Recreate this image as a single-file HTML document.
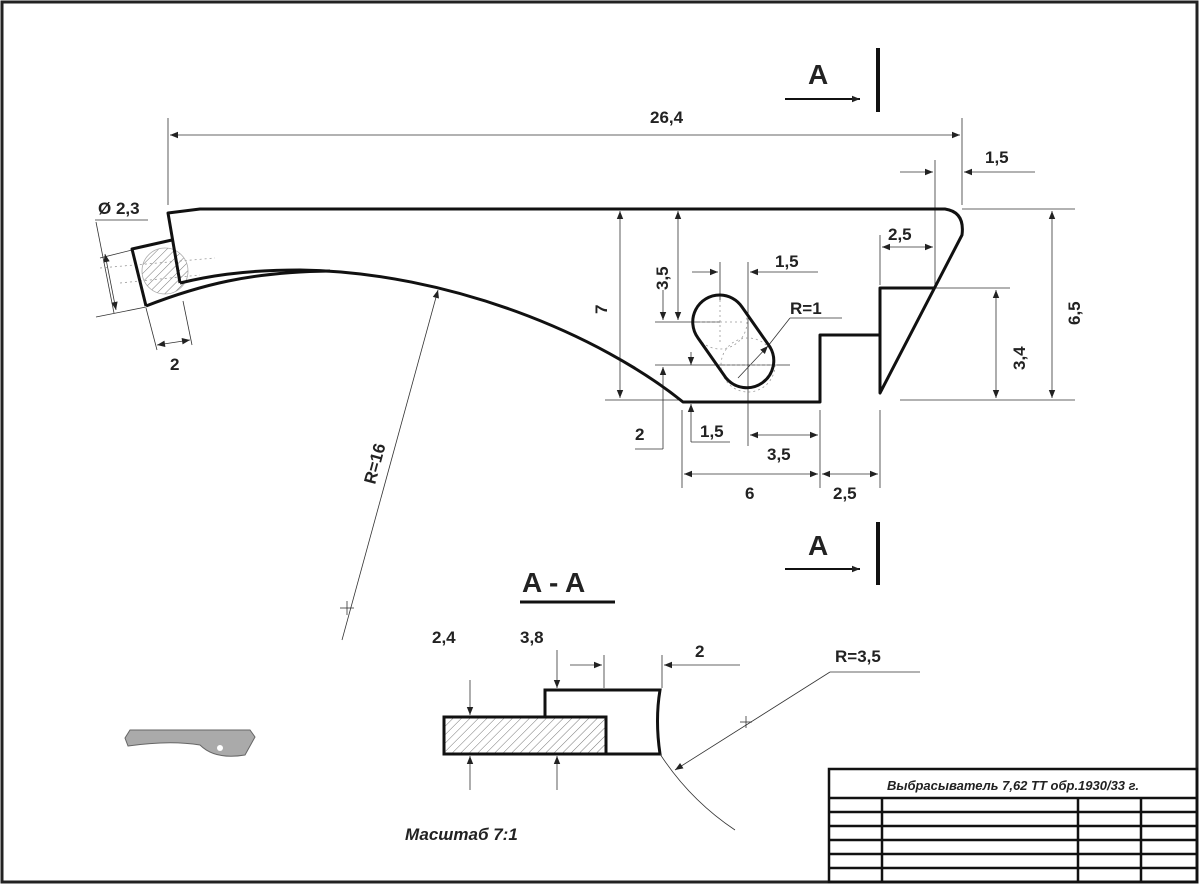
<!DOCTYPE html>
<html><head><meta charset="utf-8"><style>
html,body{margin:0;padding:0;background:#fff}
svg{display:block}
text{font-family:"Liberation Sans",sans-serif;font-weight:bold;fill:#222}
</style></head><body>
<svg width="1200" height="885" viewBox="0 0 1200 885" xmlns="http://www.w3.org/2000/svg">
<defs>
<marker id="a" viewBox="0 0 10 10" refX="10" refY="5" markerWidth="10" markerHeight="8" orient="auto-start-reverse" markerUnits="userSpaceOnUse"><path d="M0,1 L10,5 L0,9 Z" fill="#222"/></marker>
<pattern id="h" width="6" height="6" patternUnits="userSpaceOnUse" patternTransform="rotate(45)"><line x1="0" y1="0" x2="0" y2="6" stroke="#777" stroke-width="1"/></pattern>
</defs>
<rect x="2" y="2" width="1195" height="880" fill="#fff" stroke="#222" stroke-width="3"/>

<g stroke="#333" stroke-width="0.8" fill="none">
<line x1="168" y1="118" x2="168" y2="205"/>
<line x1="962" y1="118" x2="962" y2="205"/>
<line x1="170" y1="135" x2="960" y2="135" marker-start="url(#a)" marker-end="url(#a)"/>
<line x1="935" y1="160" x2="935" y2="285"/>
<line x1="900" y1="172" x2="933" y2="172" marker-end="url(#a)"/>
<line x1="964" y1="172" x2="1035" y2="172" marker-start="url(#a)"/>
<line x1="962" y1="209" x2="1075" y2="209"/>
<line x1="900" y1="400" x2="1075" y2="400"/>
<line x1="1052" y1="211" x2="1052" y2="398" marker-start="url(#a)" marker-end="url(#a)"/>
<line x1="935" y1="288" x2="1010" y2="288"/>
<line x1="996" y1="290" x2="996" y2="398" marker-start="url(#a)" marker-end="url(#a)"/>
<line x1="880" y1="235" x2="880" y2="285"/>
<line x1="882" y1="247" x2="933" y2="247" marker-start="url(#a)" marker-end="url(#a)"/>
<line x1="605" y1="400" x2="680" y2="400"/>
<line x1="620" y1="211" x2="620" y2="398" marker-start="url(#a)" marker-end="url(#a)"/>
<line x1="678" y1="211" x2="678" y2="320" marker-start="url(#a)" marker-end="url(#a)"/>
<line x1="655" y1="322" x2="720" y2="322"/>
<line x1="655" y1="365" x2="790" y2="365"/>
<line x1="663" y1="290" x2="663" y2="320" marker-end="url(#a)"/>
<line x1="663" y1="449" x2="663" y2="367" marker-end="url(#a)"/>
<line x1="635" y1="449" x2="663" y2="449"/>
<line x1="691" y1="352" x2="691" y2="365" marker-end="url(#a)"/>
<line x1="691" y1="442" x2="691" y2="404" marker-end="url(#a)"/>
<line x1="691" y1="442" x2="730" y2="442"/>
<line x1="720" y1="262" x2="720" y2="300"/>
<line x1="748" y1="262" x2="748" y2="446"/>
<line x1="692" y1="272" x2="718" y2="272" marker-end="url(#a)"/>
<line x1="750" y1="272" x2="818" y2="272" marker-start="url(#a)"/>
<line x1="682" y1="410" x2="682" y2="488"/>
<line x1="820" y1="410" x2="820" y2="488"/>
<line x1="880" y1="410" x2="880" y2="488"/>
<line x1="750" y1="435" x2="818" y2="435" marker-start="url(#a)" marker-end="url(#a)"/>
<line x1="684" y1="474" x2="818" y2="474" marker-start="url(#a)" marker-end="url(#a)"/>
<line x1="822" y1="474" x2="878" y2="474" marker-start="url(#a)" marker-end="url(#a)"/>
<line x1="738" y1="378" x2="768" y2="346" marker-end="url(#a)"/>
<line x1="768" y1="346" x2="790" y2="318"/>
<line x1="790" y1="318" x2="842" y2="318"/>
<line x1="95" y1="220" x2="148" y2="220"/>
<line x1="96" y1="222" x2="114" y2="313"/>
<line x1="100" y1="258" x2="132" y2="250"/>
<line x1="96" y1="317" x2="146" y2="307"/>
<line x1="105" y1="254" x2="116" y2="310" marker-start="url(#a)" marker-end="url(#a)"/>
<line x1="146" y1="308" x2="157" y2="350"/>
<line x1="183" y1="301" x2="192" y2="345"/>
<line x1="157" y1="345" x2="190" y2="340" marker-start="url(#a)" marker-end="url(#a)"/>
<line x1="342" y1="640" x2="438" y2="290" marker-end="url(#a)"/>
<line x1="340" y1="608" x2="354" y2="608"/><line x1="347" y1="601" x2="347" y2="615"/>
</g>
<g stroke="#999" stroke-width="0.8" stroke-dasharray="2,3" fill="none">
<line x1="100" y1="268" x2="215" y2="258"/>
<line x1="120" y1="283" x2="200" y2="275"/>
<circle cx="720" cy="322" r="27"/><circle cx="748" cy="365" r="27"/>
<line x1="700" y1="322" x2="745" y2="322"/>
<line x1="720" y1="300" x2="720" y2="345"/>
<line x1="725" y1="365" x2="780" y2="365"/>
</g>

<circle cx="165" cy="271" r="23" fill="url(#h)" stroke="#aaa" stroke-width="0.8"/>
<g stroke="#111" stroke-width="3" fill="none" stroke-linejoin="round">
<path d="M146,306 L132,249 L172,240"/>
<path d="M180,283 L168,213 L200,209 L945,209 Q965,212 962,235 L880,393 L880,288 L935,288"/>
<path d="M880,335 L820,335 L820,402 L683,402 C600,335 450,272 300,270 C240,270 205,277 180,283"/>
<path d="M146,306 C200,285 250,272 330,271"/>
<path d="M720,295 a27,27 0 0 0 -22,43 l28,40 a27,27 0 0 0 44,-31 l-28,-40 a27,27 0 0 0 -22,-12 z"/>
</g>

<g stroke="#111" fill="none">
<line x1="878" y1="48" x2="878" y2="112" stroke-width="4"/>
<line x1="785" y1="99" x2="860" y2="99" stroke-width="2" marker-end="url(#a)"/>
<line x1="878" y1="522" x2="878" y2="585" stroke-width="4"/>
<line x1="785" y1="569" x2="860" y2="569" stroke-width="2" marker-end="url(#a)"/>
<line x1="520" y1="602" x2="615" y2="602" stroke-width="3"/>
</g>
<text x="808" y="84" font-size="28">A</text>
<text x="808" y="555" font-size="28">A</text>
<text x="522" y="592" font-size="28">A - A</text>

<rect x="444" y="717" width="162" height="37" fill="url(#h)" stroke="#111" stroke-width="3"/>
<g stroke="#111" stroke-width="3" fill="none">
<path d="M545,717 L545,690 L660,690 Q655,720 660,754 L606,754"/>
</g>
<g stroke="#333" stroke-width="0.8" fill="none">
<line x1="470" y1="680" x2="470" y2="715" marker-end="url(#a)"/>
<line x1="470" y1="790" x2="470" y2="756" marker-end="url(#a)"/>
<line x1="557" y1="650" x2="557" y2="688" marker-end="url(#a)"/>
<line x1="557" y1="790" x2="557" y2="756" marker-end="url(#a)"/>
<line x1="604" y1="655" x2="604" y2="688"/>
<line x1="662" y1="655" x2="662" y2="688"/>
<line x1="570" y1="665" x2="602" y2="665" marker-end="url(#a)"/>
<line x1="664" y1="665" x2="740" y2="665" marker-start="url(#a)"/>
<path d="M660,754 Q690,800 735,830"/>
<line x1="675" y1="770" x2="830" y2="672" marker-start="url(#a)"/>
<line x1="830" y1="672" x2="920" y2="672"/>
<line x1="740" y1="722" x2="752" y2="722"/><line x1="746" y1="716" x2="746" y2="728"/>
</g>

<path d="M125,738 L130,730 L250,730 L255,737 L245,755 Q215,760 200,745 Q170,740 128,746 Z" fill="#aaa" stroke="#666" stroke-width="1"/>
<circle cx="220" cy="748" r="3" fill="#fff"/>

<g font-size="17">
<text x="650" y="123">26,4</text>
<text x="985" y="163">1,5</text>
<text x="888" y="240">2,5</text>
<text x="775" y="267">1,5</text>
<text x="790" y="314">R=1</text>
<text x="98" y="214">Ø 2,3</text>
<text x="170" y="370">2</text>
<text x="635" y="440">2</text>
<text x="700" y="437">1,5</text>
<text x="767" y="460">3,5</text>
<text x="745" y="499">6</text>
<text x="833" y="499">2,5</text>
<text x="432" y="643">2,4</text>
<text x="520" y="643">3,8</text>
<text x="695" y="657">2</text>
<text x="835" y="662">R=3,5</text>
<text transform="translate(607,314) rotate(-90)">7</text>
<text transform="translate(668,290) rotate(-90)">3,5</text>
<text transform="translate(1025,370) rotate(-90)">3,4</text>
<text transform="translate(1080,325) rotate(-90)">6,5</text>
<text transform="translate(375,485) rotate(-75)">R=16</text>
</g>
<text x="405" y="840" font-size="17" font-style="italic">Масштаб 7:1</text>

<g stroke="#111" stroke-width="2.5" fill="none">
<rect x="829" y="769" width="368" height="113"/>
<line x1="829" y1="798" x2="1197" y2="798"/>
<line x1="829" y1="812" x2="1197" y2="812"/>
<line x1="829" y1="826" x2="1197" y2="826"/>
<line x1="829" y1="840" x2="1197" y2="840"/>
<line x1="829" y1="854" x2="1197" y2="854"/>
<line x1="829" y1="868" x2="1197" y2="868"/>
<line x1="882" y1="798" x2="882" y2="882"/>
<line x1="1078" y1="798" x2="1078" y2="882"/>
<line x1="1141" y1="798" x2="1141" y2="882"/>
</g>
<text x="1013" y="790" font-size="13" font-style="italic" text-anchor="middle">Выбрасыватель 7,62 ТТ обр.1930/33 г.</text>
</svg>
</body></html>
